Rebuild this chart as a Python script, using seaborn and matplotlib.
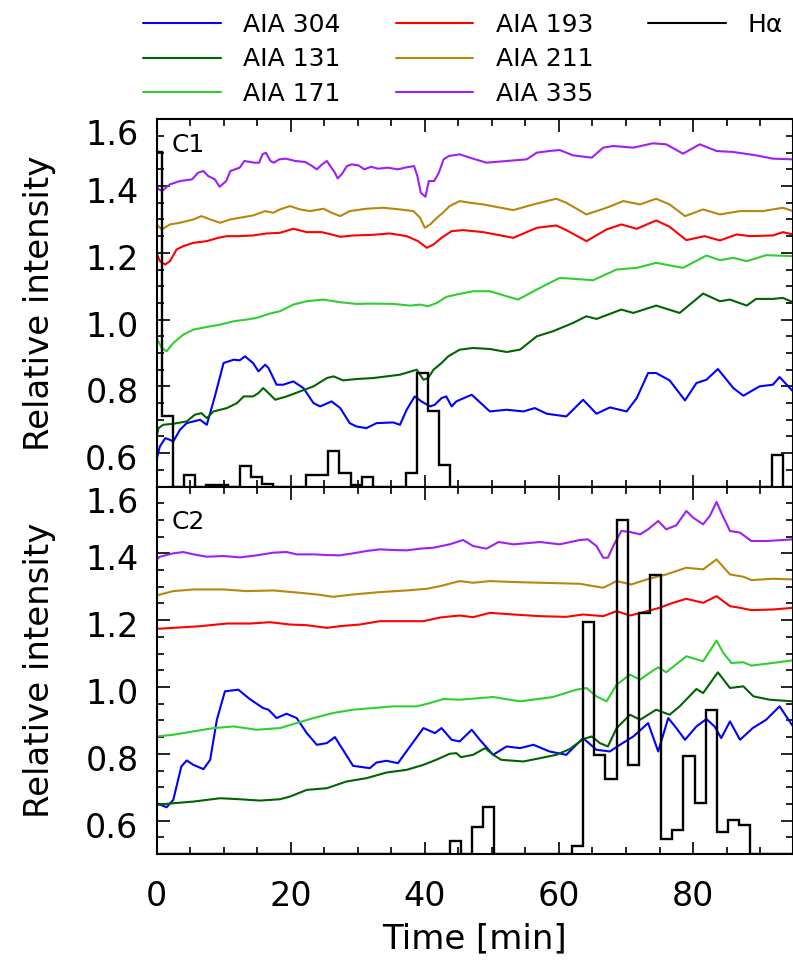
import matplotlib
matplotlib.use("Agg")
import matplotlib.pyplot as plt
import seaborn as sns
import pandas as pd
from matplotlib.lines import Line2D
from matplotlib.ticker import MultipleLocator, FixedLocator
from matplotlib.transforms import ScaledTranslation

# ---------------- data (time [min], relative intensity) ----------------
channels = ["AIA 304", "AIA 131", "AIA 171", "AIA 193", "AIA 211", "AIA 335"]
colors = ["#0000ff", "#006400", "#32cd32", "#ff0000", "#b8860b", "#a020f0"]

c1_304 = [(0,0.58),(0.5,0.62),(1.3,0.645),(2.0,0.64),(2.5,0.635),(3.5,0.67),(4.5,0.69),(5.5,0.695),(6.5,0.70),(7.5,0.685),(8.7,0.77),(10.0,0.87),(11.5,0.88),(12.4,0.878),(13.2,0.89),(14.4,0.87),(15.2,0.845),(16.2,0.865),(16.7,0.855),(17.9,0.805),(18.9,0.805),(20.4,0.815),(21.9,0.795),(23.4,0.75),(24.4,0.74),(26.1,0.755),(27.4,0.735),(28.8,0.69),(29.8,0.68),(31.3,0.675),(32.8,0.69),(35.3,0.692),(36.3,0.685),(37.3,0.73),(38.5,0.77),(39.5,0.755),(40.8,0.74),(41.5,0.745),(42.5,0.765),(43.2,0.77),(44.0,0.74),(44.7,0.755),(47.0,0.775),(49.7,0.725),(52.2,0.73),(54.7,0.725),(56.4,0.735),(58.2,0.718),(61.1,0.71),(63.6,0.76),(65.6,0.718),(67.6,0.737),(70.1,0.725),(71.6,0.765),(73.3,0.84),(74.5,0.84),(76.5,0.818),(78.8,0.758),(80.5,0.81),(82.0,0.82),(83.7,0.852),(86.0,0.795),(87.5,0.772),(89.9,0.80),(91.9,0.805),(92.9,0.828),(94.9,0.785)]
c1_131 = [(0,0.65),(0.3,0.675),(1.0,0.685),(2.5,0.688),(4.5,0.695),(5.7,0.715),(6.7,0.72),(7.5,0.705),(8.5,0.725),(10.5,0.735),(12.0,0.75),(13.0,0.77),(14.4,0.77),(15.2,0.78),(15.9,0.795),(16.7,0.78),(17.7,0.76),(19.4,0.77),(21.4,0.785),(23.4,0.80),(25.4,0.825),(26.4,0.83),(27.8,0.818),(29.8,0.822),(32.3,0.825),(34.3,0.83),(36.3,0.835),(38.8,0.85),(39.8,0.82),(40.5,0.825),(41.3,0.85),(42.5,0.87),(43.5,0.89),(45.2,0.91),(47.2,0.915),(49.7,0.912),(52.2,0.903),(54.2,0.91),(56.7,0.95),(59.1,0.965),(62.1,0.99),(64.1,1.01),(65.6,1.002),(69.3,1.03),(71.1,1.02),(74.5,1.042),(78.0,1.02),(81.5,1.078),(84.0,1.055),(85.5,1.06),(88.0,1.042),(89.4,1.062),(91.9,1.062),(93.4,1.065),(94.9,1.052)]
c1_171 = [(0,0.945),(0.8,0.915),(1.5,0.905),(2.5,0.93),(4.0,0.955),(5.5,0.97),(7.5,0.978),(9.5,0.985),(11.5,0.995),(13.4,1.0),(14.9,1.005),(16.9,1.018),(18.4,1.025),(20.4,1.045),(22.4,1.055),(24.9,1.06),(27.4,1.052),(29.8,1.047),(32.3,1.048),(35.3,1.047),(37.8,1.042),(39.3,1.045),(40.5,1.04),(41.8,1.05),(43.2,1.068),(44.7,1.075),(47.2,1.085),(49.7,1.085),(53.9,1.06),(56.7,1.09),(60.1,1.125),(65.1,1.118),(68.6,1.15),(71.6,1.155),(74.5,1.17),(78.5,1.155),(82.0,1.192),(84.0,1.178),(86.0,1.185),(88.0,1.175),(90.9,1.193),(94.9,1.19)]
c1_193 = [(0,1.20),(0.5,1.175),(1.3,1.165),(2.0,1.175),(3.0,1.21),(4.0,1.22),(5.5,1.23),(7.5,1.235),(9.2,1.245),(10.5,1.25),(12.4,1.25),(14.4,1.252),(16.4,1.258),(18.4,1.26),(20.4,1.272),(22.4,1.262),(24.6,1.262),(26.1,1.255),(27.4,1.248),(29.3,1.252),(32.3,1.254),(34.8,1.258),(37.3,1.25),(39.0,1.235),(40.3,1.215),(41.3,1.225),(42.5,1.245),(44.0,1.265),(45.7,1.268),(48.7,1.262),(53.2,1.245),(56.7,1.275),(59.6,1.282),(61.1,1.268),(64.1,1.235),(67.1,1.27),(69.3,1.285),(71.6,1.272),(74.5,1.297),(76.5,1.278),(79.0,1.238),(81.7,1.25),(84.0,1.237),(86.5,1.255),(88.5,1.25),(91.9,1.252),(93.4,1.262),(94.9,1.255)]
c1_211 = [(0,1.285),(0.8,1.27),(2.0,1.285),(3.5,1.29),(5.5,1.30),(6.7,1.31),(8.0,1.30),(9.5,1.29),(11,1.30),(12.4,1.305),(14.4,1.312),(16.2,1.325),(17.4,1.32),(18.4,1.33),(19.9,1.34),(21.4,1.33),(22.9,1.325),(24.9,1.332),(26.1,1.32),(27.4,1.31),(28.8,1.325),(31.3,1.332),(33.8,1.335),(36.3,1.33),(38.3,1.325),(39.3,1.305),(40.0,1.275),(40.8,1.285),(41.8,1.305),(42.7,1.32),(43.7,1.34),(45.2,1.355),(46.7,1.35),(48.7,1.345),(53.2,1.328),(56.2,1.345),(59.6,1.362),(61.1,1.35),(64.1,1.315),(67.1,1.335),(69.6,1.355),(72.1,1.345),(74.5,1.362),(76.5,1.345),(78.8,1.31),(81.5,1.33),(84.0,1.315),(87.0,1.325),(90.4,1.325),(93.4,1.335),(94.9,1.325)]
c1_335 = [(0,1.395),(0.8,1.385),(2,1.405),(3.5,1.415),(5.3,1.42),(6.2,1.44),(7,1.445),(7.7,1.43),(8.7,1.42),(9.4,1.398),(10.4,1.415),(11,1.445),(12.4,1.455),(13.1,1.475),(14.6,1.47),(15.3,1.47),(15.8,1.495),(16.3,1.5),(17,1.475),(17.5,1.47),(18.3,1.48),(19.3,1.482),(20.7,1.475),(22.2,1.472),(23.2,1.46),(23.9,1.45),(24.7,1.465),(25.4,1.475),(25.9,1.46),(26.6,1.44),(27,1.423),(27.6,1.435),(28.4,1.46),(29.1,1.465),(30.1,1.462),(31,1.45),(32,1.458),(33,1.452),(34.5,1.455),(36,1.45),(37,1.455),(38.4,1.46),(38.9,1.43),(39.4,1.38),(40.1,1.368),(40.6,1.415),(41.4,1.415),(42.1,1.44),(42.8,1.48),(43.6,1.49),(45.2,1.495),(46.7,1.485),(49.2,1.47),(52.2,1.475),(55.2,1.48),(56.7,1.5),(58.6,1.505),(60.1,1.508),(62.1,1.492),(64.9,1.485),(66.6,1.515),(68.1,1.52),(71.1,1.515),(74.0,1.528),(76.0,1.525),(78.5,1.497),(81.0,1.525),(83.5,1.505),(86.0,1.502),(89.4,1.492),(91.9,1.482),(94.9,1.48)]

c2_304 = [(0,0.652),(1.5,0.64),(2.5,0.662),(3.7,0.762),(4.5,0.78),(5.5,0.767),(7.0,0.754),(8.0,0.782),(9.0,0.902),(10.2,0.987),(12.2,0.992),(13.9,0.964),(15.9,0.937),(16.7,0.932),(17.9,0.907),(19.4,0.92),(20.9,0.907),(22.4,0.862),(23.9,0.827),(25.4,0.832),(26.6,0.85),(27.8,0.812),(29.3,0.764),(31.8,0.757),(32.8,0.774),(34.3,0.779),(36.0,0.772),(37.8,0.822),(39.8,0.877),(41.5,0.862),(42.5,0.877),(44.0,0.842),(45.2,0.837),(47.0,0.872),(48.2,0.842),(50.2,0.797),(52.2,0.822),(54.2,0.817),(56.2,0.827),(58.6,0.807),(61.1,0.797),(63.6,0.847),(65.6,0.812),(67.6,0.807),(69.1,0.827),(71.1,0.852),(73.3,0.892),(74.8,0.807),(76.3,0.907),(77.5,0.877),(78.8,0.842),(80.5,0.882),(82.0,0.904),(83.2,0.882),(84.2,0.847),(85.5,0.897),(87.0,0.842),(88.9,0.877),(90.9,0.902),(92.9,0.942),(94.9,0.882)]
c2_131 = [(0,0.647),(2.5,0.652),(5.5,0.657),(9.5,0.667),(12.4,0.664),(15.4,0.66),(18.4,0.664),(19.9,0.672),(22.4,0.692),(25.4,0.697),(28.3,0.717),(31.3,0.727),(34.3,0.744),(37.3,0.752),(39.8,0.767),(41.7,0.782),(43.7,0.80),(44.7,0.802),(45.4,0.79),(47.2,0.797),(49.0,0.817),(50.2,0.797),(51.4,0.782),(54.7,0.777),(57.2,0.787),(59.6,0.797),(61.6,0.814),(63.6,0.844),(64.9,0.852),(66.1,0.832),(67.3,0.822),(68.6,0.877),(70.6,0.917),(72.1,0.902),(74.5,0.932),(76.5,0.917),(78.0,0.942),(80.5,0.994),(81.5,0.982),(83.7,1.044),(85.5,0.997),(87.5,1.002),(89.0,0.972),(91.4,0.962),(94.9,0.957)]
c2_171 = [(0,0.852),(2.5,0.857),(5.5,0.867),(8.5,0.877),(11.5,0.882),(14.9,0.872),(18.4,0.877),(20.9,0.892),(23.4,0.907),(26.3,0.922),(29.3,0.932),(32.3,0.937),(35.3,0.942),(38.8,0.942),(40.8,0.952),(42.8,0.964),(45.2,0.962),(50.2,0.97),(54.2,0.957),(59.1,0.97),(62.6,0.992),(64.1,0.997),(65.6,0.972),(67.1,0.957),(68.6,1.007),(70.6,1.037),(72.1,1.022),(73.5,1.042),(74.8,1.059),(76.0,1.044),(79.0,1.092),(81.5,1.077),(83.5,1.139),(84.5,1.102),(85.7,1.072),(87.5,1.074),(88.7,1.064),(91.9,1.072),(94.9,1.08)]
c2_193 = [(0,1.174),(2.5,1.177),(6.5,1.182),(10.5,1.19),(14,1.19),(16.9,1.194),(19.9,1.187),(22.4,1.185),(25.4,1.177),(27.3,1.182),(30.3,1.187),(33.3,1.197),(36.3,1.197),(39.8,1.197),(42.3,1.208),(45.2,1.214),(47.2,1.209),(49.7,1.222),(53.2,1.217),(57.2,1.212),(61.1,1.21),(63.6,1.217),(66.6,1.212),(68.6,1.227),(70.6,1.214),(72.6,1.224),(75.0,1.237),(77.0,1.252),(79.0,1.264),(81.5,1.252),(83.5,1.272),(85.5,1.242),(87.0,1.237),(88.7,1.23),(91.9,1.232),(94.9,1.237)]
c2_211 = [(0,1.274),(2.5,1.287),(5.5,1.292),(10,1.292),(13.4,1.287),(17.4,1.289),(21.4,1.282),(23.9,1.277),(26.3,1.27),(29.3,1.277),(33.3,1.284),(37.3,1.289),(40.3,1.294),(42.3,1.302),(45.2,1.317),(47.2,1.312),(49.7,1.317),(53.7,1.314),(57.2,1.312),(63.1,1.309),(66.6,1.297),(68.6,1.317),(70.8,1.307),(73.1,1.322),(76.0,1.337),(79.0,1.357),(81.5,1.352),(83.5,1.382),(85.5,1.337),(87.5,1.33),(88.7,1.32),(91.9,1.324),(94.9,1.322)]
c2_335 = [(0,1.382),(0.5,1.39),(2.5,1.40),(4.0,1.404),(5.5,1.397),(7.5,1.39),(10.0,1.392),(12.5,1.388),(14.9,1.394),(17.4,1.402),(19.4,1.404),(20.9,1.397),(23.4,1.397),(25.4,1.395),(27.3,1.394),(29.3,1.40),(31.3,1.407),(33.3,1.412),(35.3,1.41),(37.3,1.409),(39.3,1.414),(41.3,1.417),(43.7,1.427),(45.7,1.44),(47.2,1.422),(49.2,1.414),(51.0,1.434),(53.2,1.427),(57.2,1.434),(60.1,1.427),(63.1,1.44),(64.3,1.442),(65.6,1.422),(66.6,1.387),(67.3,1.387),(68.1,1.422),(69.3,1.467),(70.6,1.464),(72.1,1.457),(73.3,1.472),(74.8,1.497),(76.0,1.472),(77.5,1.484),(79.0,1.527),(80.0,1.507),(81.5,1.487),(82.5,1.512),(83.5,1.554),(84.2,1.522),(85.5,1.467),(87.0,1.462),(88.7,1.437),(90.9,1.437),(93.4,1.44),(94.9,1.442)]

# H-alpha histograms (values clipped at the plot floor 0.5 are given as 0.5)
c1_ha_start, c1_ha_width = -0.855, 1.655
c1_ha = [1.502, 0.712, 0.5, 0.535, 0.5, 0.505, 0.505, 0.5, 0.562, 0.53,
         0.508, 0.5, 0.5, 0.5, 0.535, 0.535, 0.605, 0.542, 0.505, 0.528,
         0.5, 0.5, 0.5, 0.542, 0.84, 0.725, 0.565, 0.5, 0.5, 0.5,
         0.5, 0.5, 0.5, 0.5, 0.5, 0.5, 0.5, 0.5, 0.5, 0.5,
         0.5, 0.5, 0.5, 0.5, 0.5, 0.5, 0.5, 0.5, 0.5, 0.5,
         0.5, 0.5, 0.5, 0.5, 0.5, 0.5, 0.595, 0.5]
c2_ha_start, c2_ha_width = 0.54, 1.66
c2_ha = [0.5, 0.5, 0.5, 0.5, 0.5, 0.5, 0.5, 0.5, 0.5, 0.5,
         0.5, 0.5, 0.5, 0.5, 0.5, 0.5, 0.5, 0.5, 0.5, 0.5,
         0.5, 0.5, 0.5, 0.5, 0.5, 0.5, 0.54, 0.5, 0.58, 0.64,
         0.5, 0.5, 0.5, 0.5, 0.5, 0.5, 0.5, 0.524, 1.194, 0.797,
         0.724, 1.50, 0.767, 1.22, 1.335, 0.544, 0.572, 0.792, 0.654, 0.932,
         0.567, 0.602, 0.587, 0.5, 0.5, 0.5, 0.5]

panels = [
    ("C1", [c1_304, c1_131, c1_171, c1_193, c1_211, c1_335], c1_ha, c1_ha_start, c1_ha_width),
    ("C2", [c2_304, c2_131, c2_171, c2_193, c2_211, c2_335], c2_ha, c2_ha_start, c2_ha_width),
]

yticks = [0.6, 0.8, 1.0, 1.2, 1.4, 1.6]

# ---------------- style ----------------
sns.set_style("ticks")
plt.rcParams["font.family"] = ["DejaVu Sans"]
plt.rcParams["axes.linewidth"] = 1.5
for key in ["text.color", "axes.labelcolor", "xtick.color", "ytick.color", "axes.edgecolor"]:
    plt.rcParams[key] = "black"

fig = plt.figure(figsize=(7.93, 9.65), dpi=100)
L = 156.5 / 793
mid = 0.4958
ax1 = fig.add_axes([L, mid, 1 - L, 0.8764 - mid])
ax2 = fig.add_axes([L, 0.115, 1 - L, mid - 0.115])
axes = [ax1, ax2]
label_y = [0.912, 0.8855]

for ax, (name, series, ha, ha_start, ha_w), ly in zip(axes, panels, label_y):
    rows = []
    for ch, s in zip(channels, series):
        for t, v in s:
            rows.append({"channel": ch, "t": t, "v": v})
    df = pd.DataFrame(rows)
    sns.lineplot(data=df, x="t", y="v", hue="channel", hue_order=channels,
                 palette=colors, estimator=None, sort=False, lw=1.5,
                 legend=False, ax=ax)
    edges = [ha_start + k * ha_w for k in range(len(ha) + 1)]
    ax.stairs(ha, edges, baseline=None, color="black", lw=1.7, zorder=5)

    ax.set_xlim(0, 94.9)
    ax.set_ylim(0.5, 1.6)
    ax.xaxis.set_major_locator(MultipleLocator(20))
    ax.xaxis.set_minor_locator(MultipleLocator(5))
    ax.yaxis.set_major_locator(FixedLocator(yticks))
    ax.yaxis.set_minor_locator(MultipleLocator(0.05))
    ax.tick_params(which="both", direction="in", top=True, right=True,
                   width=1.2, labelsize=24, color="black")
    ax.tick_params(which="major", length=9)
    ax.tick_params(which="minor", length=5)
    ax.tick_params(axis="y", pad=13)
    ax.tick_params(axis="x", pad=19)
    ax.set_ylabel("Relative intensity", fontsize=24.5, color="black")
    ax.yaxis.set_label_coords(-0.158, 0.5)
    ax.set_xlabel("")
    ax.text(0.024, ly, name, transform=ax.transAxes, fontsize=18,
            va="baseline", ha="left", color="black")
    for sp in ax.spines.values():
        sp.set_linewidth(1.5)
        sp.set_color("black")

ax1.tick_params(axis="x", labelbottom=False)
ax2.set_xlabel("Time [min]", fontsize=24.5, color="black")
ax2.xaxis.set_label_coords(0.5, -0.185)

fig.canvas.draw()
for ax in axes:
    for tk in ax.yaxis.get_major_ticks():
        dy = -13 if abs(tk.get_loc() - 1.6) < 1e-6 else -4
        tk.label1.set_transform(tk.label1.get_transform() +
                                ScaledTranslation(0, dy / 100, fig.dpi_scale_trans))

# legend: column 1 = 304/131/171, column 2 = 193/211/335, column 3 = H-alpha
handles = [Line2D([], [], color=c, lw=1.5) for c in colors] + \
          [Line2D([], [], color="black", lw=1.5),
           Line2D([], [], color="none"), Line2D([], [], color="none")]
labels = channels + ["Hα", " ", " "]
fig.legend(handles, labels, loc="upper left", bbox_to_anchor=(143 / 793, 1 - 13 / 965),
           ncol=3, frameon=False, fontsize=18, handlelength=3.1, handletextpad=0.9,
           columnspacing=2.2, labelspacing=0.42, borderpad=0, borderaxespad=0,
           labelcolor="black")

fig.savefig("out.png", dpi=100)
